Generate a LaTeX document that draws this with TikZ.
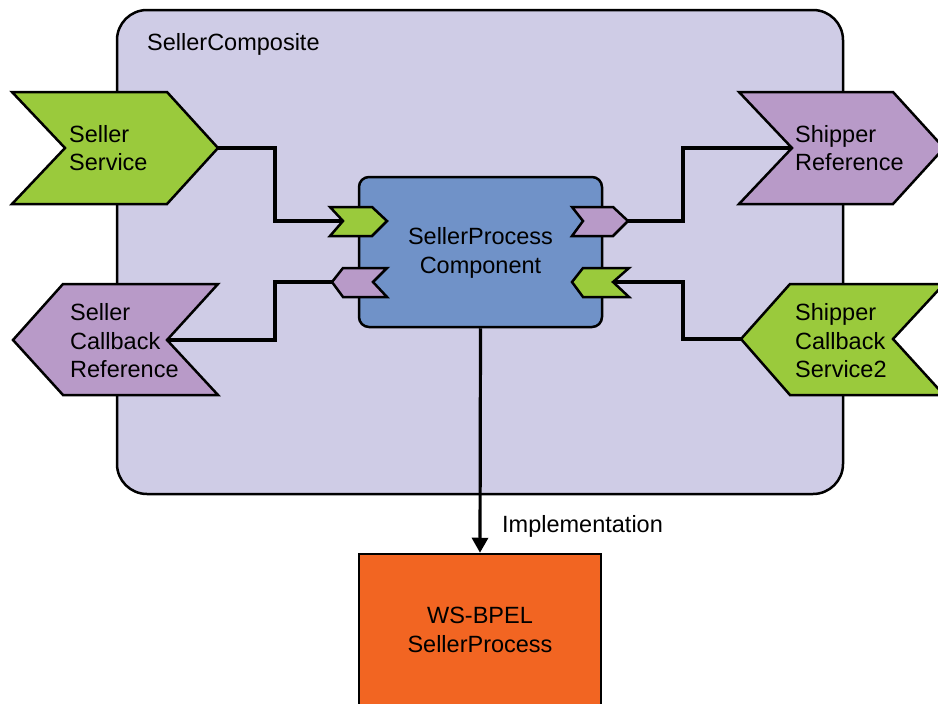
\documentclass[tikz,border=0pt]{standalone}
\usepackage{fontspec}
\setmainfont{Liberation Sans}
\usetikzlibrary{arrows.meta}
\definecolor{compositebg}{RGB}{207,204,230}
\definecolor{servicegreen}{RGB}{154,202,60}
\definecolor{refpurple}{RGB}{184,154,200}
\definecolor{componentblue}{RGB}{112,146,200}
\definecolor{implorange}{RGB}{242,101,34}
\tikzset{
  outline/.style={draw=black, line width=2.5pt, line join=miter},
  wire/.style={draw=black, line width=3.2pt, line join=miter},
  svc/.style={outline, fill=servicegreen},
  ref/.style={outline, fill=refpurple},
  label/.style={font=\fontsize{23.5}{28.5}\selectfont, align=left, inner sep=0pt, anchor=west},
  clabel/.style={font=\fontsize{23.5}{28.5}\selectfont, align=center, inner sep=0pt}
}
\begin{document}
\begin{tikzpicture}[x=1pt,y=-1pt]
\clip (0,0) rectangle (938,704);
\fill[white] (0,0) rectangle (938,704);

% composite container
\node (composite) [outline, fill=compositebg, rounded corners=30pt,
  minimum width=726pt, minimum height=484pt, inner sep=0pt] at (480,252) {};
\node (compositename) [label] at (147,44) {SellerComposite};

% component
\node (comp) [outline, fill=componentblue, rounded corners=10pt,
  minimum width=243pt, minimum height=150pt, inner sep=0pt] at (480.5,252) {};
\node (comptext) [clabel] at (480.5,253) {SellerProcess\\Component};

% component ports
\draw[svc] (330,207) -- (372,207) -- (387,221) -- (372,236) -- (330,236) -- (343,221) -- cycle;
\coordinate (inport) at (343,221);
\draw[ref] (343,268) -- (387,268) -- (373,282) -- (387,297) -- (343,297) -- (332,282) -- cycle;
\coordinate (cbrefport) at (332,282);
\draw[ref] (572,207) -- (613,207) -- (628,221) -- (613,236) -- (572,236) -- (583,221) -- cycle;
\coordinate (outport) at (628,221);
\draw[svc] (583,268) -- (629,268) -- (613,282) -- (629,297) -- (583,297) -- (572,282) -- cycle;
\coordinate (cbsvcport) at (613,282);

% composite services and references
\draw[svc] (12,92) -- (167,92) -- (218,148) -- (167,204) -- (12,204) -- (65,148) -- cycle;
\coordinate (sellersvc) at (218,148);
\node (sellersvctext) [label] at (69,148) {Seller\\Service};

\draw[ref] (63,284) -- (218,284) -- (167,340) -- (218,395) -- (63,395) -- (13,340) -- cycle;
\coordinate (sellerref) at (167,340);
\node (sellerreftext) [label] at (70,341) {Seller\\Callback\\Reference};

\draw[ref] (739,92) -- (893,92) -- (944,148) -- (893,204) -- (739,204) -- (792,148) -- cycle;
\coordinate (shipperref) at (792,148);
\node (shipperreftext) [label] at (795,148) {Shipper\\Reference};

\draw[svc] (790,284) -- (944,284) -- (893,339) -- (944,395) -- (790,395) -- (741,339) -- cycle;
\coordinate (shippersvc) at (741,339);
\node (shippersvctext) [label] at (795,341) {Shipper\\Callback\\Service2};

% wires
\draw[wire] (sellersvc) -- (275,148) |- (inport);
\draw[wire] (cbrefport) -- (275,282) |- (sellerref);
\draw[wire] (outport) -- (683,221) |- (shipperref);
\draw[wire] (cbsvcport) -- (683,282) |- (shippersvc);

% implementation
\node (bpel) [outline, fill=implorange, minimum width=242pt, minimum height=154pt,
  inner sep=0pt] at (480,631) {};
\node (bpeltext) [clabel] at (480,630) {WS-BPEL\\SellerProcess};
\draw[wire, -{Triangle[length=15pt,width=16pt]}] (comp.south) -- (bpel.north);
\node (impllabel) [label] at (502,526) {Implementation};
\end{tikzpicture}
\end{document}
